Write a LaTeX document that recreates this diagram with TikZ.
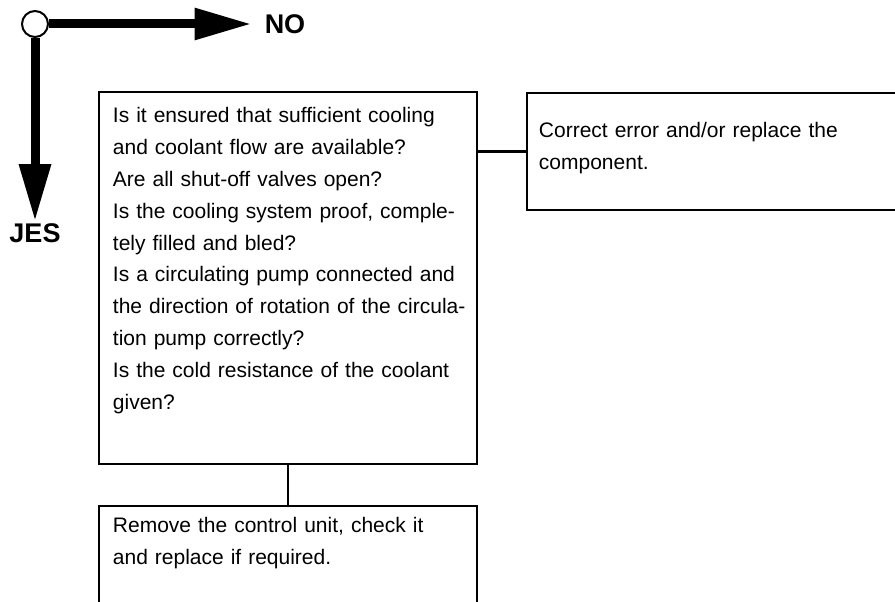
\documentclass[tikz,border=0pt]{standalone}
\usepackage{fontspec}
\setmainfont{Liberation Sans}
\usetikzlibrary{arrows.meta,positioning}

\newcommand{\topgap}[1]{\rule{0pt}{#1}}
\newcommand{\botgap}[1]{\rule[-#1]{0pt}{#1}}

\begin{document}
\begin{tikzpicture}[x=1pt,y=-1pt,>={Triangle[length=57pt,width=30pt]},
  box/.style={draw,line width=1.9pt,anchor=north west,align=left,inner ysep=0pt,inner xsep=14pt,text width=350pt,font=\fontsize{21}{31.8}\selectfont},
  link/.style={line width=2.4pt},
  yesno/.style={->,line width=9pt},
  legend/.style={font=\fontsize{27}{30}\selectfont\bfseries,inner sep=2pt}]
\useasboundingbox (0,0) rectangle (895,602);
\clip (0,0) rectangle (895,602);
\node[draw,circle,line width=2pt,minimum size=26pt,inner sep=0pt] (start) at (35,24) {};
\node[legend] (no) at (285,24) {NO};
\node[legend] (jes) at (35,233) {JES};
\draw[yesno,shorten >=11pt] (start) -- (no);
\draw[yesno] (start) -- (jes);

\node[box] (check) at (98,91) {\topgap{31pt}Is it ensured that sufficient cooling\\
  and coolant flow are available?\\
  Are all shut-off valves open?\\
  Is the cooling system proof, comple-\\
  tely filled and bled?\\
  Is a circulating pump connected and\\
  \mbox{the direction of rotation of the circula-}\\
  tion pump correctly?\\
  Is the cold resistance of the coolant\\
  given?\botgap{55pt}};
\node[box,inner xsep=12pt,text width=360pt] (fix) at (526,92) {\topgap{45pt}Correct error and/or replace the\\
  component.\botgap{40pt}};
\node[box] (unit) at (98,505) {\topgap{27pt}Remove the control unit, check it\\
  and replace if required.\botgap{60pt}};

\draw[link] (check.south) -- (unit.north);
\draw[link] (fix.west) -- (fix.west -| check.east);
\end{tikzpicture}
\end{document}
